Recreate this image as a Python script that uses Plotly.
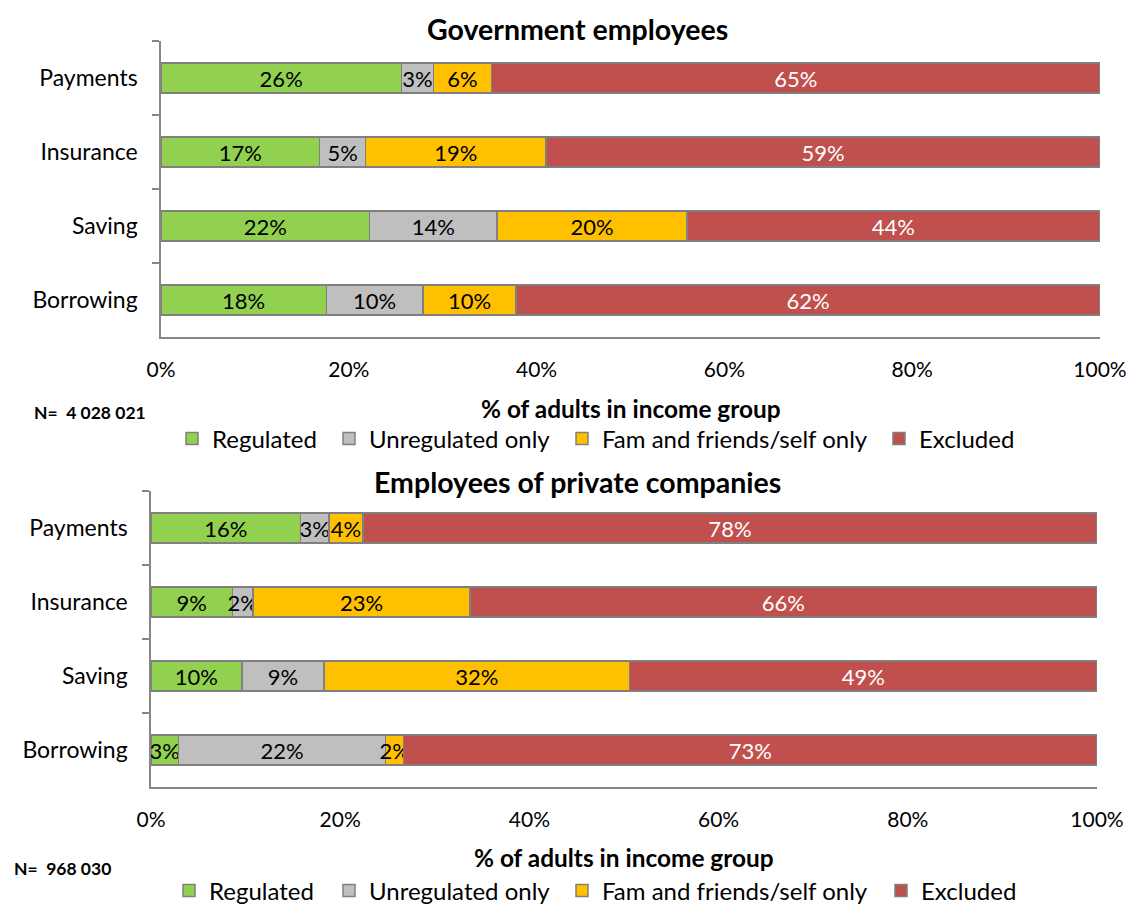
import plotly.graph_objects as go

categories = ["Payments", "Insurance", "Saving", "Borrowing"]
series_names = ["Regulated", "Unregulated only", "Fam and friends/self only", "Excluded"]
colors = ["#92D050", "#BFBFBF", "#FFC000", "#C0504D"]
text_colors = ["black", "black", "black", "white"]

# Government employees (% of adults)
gov_regulated = [25.6, 16.9, 22.2, 17.6]
gov_unregulated = [3.4, 4.9, 13.6, 10.3]
gov_family = [6.2, 19.2, 20.2, 9.9]
gov_excluded = [64.8, 59.0, 44.0, 62.2]

# Employees of private companies (% of adults)
priv_regulated = [15.8, 8.6, 9.6, 2.9]
priv_unregulated = [3.0, 2.2, 8.7, 21.9]
priv_family = [3.6, 22.9, 32.3, 1.9]
priv_excluded = [77.6, 66.3, 49.4, 73.3]

x_ticks = [0, 20, 40, 60, 80, 100]
x_tick_labels = ["0%", "20%", "40%", "60%", "80%", "100%"]

titles = ["Government employees", "Employees of private companies"]
x_title = "% of adults in income group"
n_labels = ["N=  4 028 021", "N=  968 030"]

FONT = "Lato, Carlito, 'Liberation Sans', sans-serif"
W, H = 1127, 904

def px_x(p):
    return p / W

def px_y(p):
    return 1 - p / H

fig = go.Figure()

# one legend per entry so each entry sits where the original places it
legend_text_x = [[210, 367, 600, 917], [207, 367, 600, 919]]
legend_y = [439, 891]

panels = [
    ([gov_regulated, gov_unregulated, gov_family, gov_excluded], "x", "y"),
    ([priv_regulated, priv_unregulated, priv_family, priv_excluded], "x2", "y2"),
]

legend_layout = {}
for p, (vals_list, xa, ya) in enumerate(panels):
    for i, (name, vals, col, tcol) in enumerate(zip(series_names, vals_list, colors, text_colors)):
        idx = p * 4 + i + 1
        lg = "legend" if idx == 1 else f"legend{idx}"
        legend_layout[lg] = dict(
            orientation="h", xanchor="left", yanchor="middle",
            x=px_x(legend_text_x[p][i] - 38), y=px_y(legend_y[p]),
            font=dict(size=24, family=FONT, color="black"),
            bgcolor="rgba(0,0,0,0)", itemwidth=30,
        )
        fig.add_trace(go.Bar(
            y=categories, x=vals, name=name, orientation="h",
            xaxis=xa, yaxis=ya, legend=lg,
            marker=dict(color=col, line=dict(color="#808080", width=1.5)),
            width=0.4,
            text=[f"{v:.0f}%" for v in vals],
            textposition="inside", insidetextanchor="middle", textangle=0,
            textfont=dict(color=tcol, size=22, family=FONT),
            constraintext="none",
            cliponaxis=False,
            hoverinfo="skip",
        ))

axis_common_x = dict(range=[0, 100], tickvals=x_ticks, ticktext=x_tick_labels,
                     showgrid=False, zeroline=False, showline=True,
                     linecolor="#868686", linewidth=1.5, ticks="",
                     ticklabelstandoff=13,
                     tickfont=dict(size=21, family=FONT, color="black"))
axis_common_y = dict(range=[3.5, -0.5], showgrid=False, zeroline=False, showline=True,
                     linecolor="#868686", linewidth=1.5, ticks="outside", ticklen=7,
                     tickcolor="#868686", tickwidth=1.5, tickson="boundaries",
                     ticklabelstandoff=17,
                     tickfont=dict(size=23, family=FONT, color="black"))

fig.update_layout(
    width=W, height=H,
    margin=dict(l=0, r=0, t=0, b=0, autoexpand=False),
    paper_bgcolor="white", plot_bgcolor="white",
    barmode="stack", showlegend=True,
    uniformtext=dict(minsize=22, mode="show"),
    font=dict(family=FONT, color="black"),
    xaxis=dict(domain=[px_x(161), px_x(1100)], anchor="y", **axis_common_x),
    yaxis=dict(domain=[px_y(337), px_y(41)], anchor="x", **axis_common_y),
    xaxis2=dict(domain=[px_x(151), px_x(1097)], anchor="y2", **axis_common_x),
    yaxis2=dict(domain=[px_y(787), px_y(491)], anchor="x2", **axis_common_y),
    **legend_layout,
)

annotations = [
    dict(text=f"<b>{titles[0]}</b>", x=px_x(577), y=px_y(29), font=dict(size=28.5)),
    dict(text=f"<b>{titles[1]}</b>", x=px_x(577), y=px_y(482), font=dict(size=28.5)),
    dict(text=f"<b>{x_title}</b>", x=px_x(631), y=px_y(408), font=dict(size=24.4)),
    dict(text=f"<b>{x_title}</b>", x=px_x(624), y=px_y(857), font=dict(size=24.4)),
    dict(text=f"<b>{n_labels[0]}</b>", x=px_x(32), y=px_y(413), xanchor="left", font=dict(size=17.5)),
    dict(text=f"<b>{n_labels[1]}</b>", x=px_x(12), y=px_y(868), xanchor="left", font=dict(size=17.5)),
]
for a in annotations:
    a.update(xref="paper", yref="paper", showarrow=False, yanchor="middle",
             xanchor=a.get("xanchor", "center"))
    a["font"].update(family=FONT, color="black")
fig.update_layout(annotations=annotations)

fig.write_html("out.html")
